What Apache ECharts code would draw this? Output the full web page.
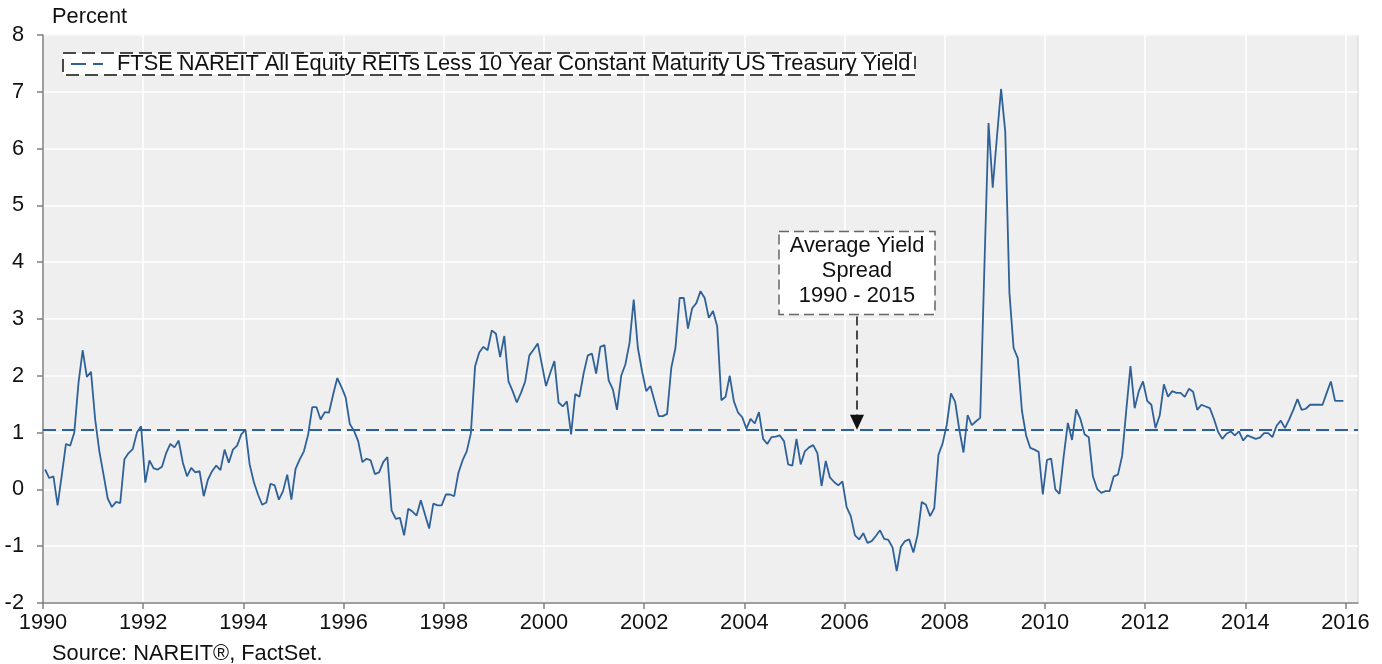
<!DOCTYPE html>
<html>
<head>
<meta charset="utf-8">
<title>REIT yield spread</title>
<script src="https://cdn.jsdelivr.net/npm/echarts@6/dist/echarts.min.js"></script>
<style>
  html, body { margin: 0; padding: 0; background: #fff; }
  #chart { width: 1382px; height: 664px; }
</style>
</head>
<body>
<div id="chart"></div>
<script>
// monthly spread (percent), Jan..Dec, one row per year
var spread1990s = [
  0.35, 0.20, 0.23, -0.28, 0.25, 0.80, 0.77, 1.00, 1.87, 2.45, 1.98, 2.07,
  1.23, 0.67, 0.26, -0.16, -0.31, -0.22, -0.24, 0.53, 0.64, 0.71, 1.00, 1.11,
  0.12, 0.51, 0.37, 0.35, 0.40, 0.64, 0.80, 0.74, 0.86, 0.47, 0.23, 0.38,
  0.30, 0.32, -0.12, 0.17, 0.32, 0.42, 0.34, 0.70, 0.47, 0.70, 0.77, 0.97,
  1.05, 0.44, 0.13, -0.09, -0.27, -0.23, 0.10, 0.07, -0.18, -0.03, 0.26, -0.18,
  0.36, 0.53, 0.67, 0.96, 1.45, 1.45, 1.23, 1.36, 1.35, 1.67, 1.96, 1.80,
  1.62, 1.15, 1.03, 0.85, 0.48, 0.54, 0.51, 0.27, 0.30, 0.48, 0.57, -0.37,
  -0.52, -0.50, -0.81, -0.34, -0.39, -0.46, -0.19, -0.44, -0.69, -0.25, -0.28, -0.28,
  -0.09, -0.09, -0.12, 0.29, 0.51, 0.67, 0.99, 2.17, 2.41, 2.51, 2.45, 2.80,
  2.74, 2.33, 2.70, 1.90, 1.73, 1.53, 1.70, 1.90, 2.36, 2.46, 2.57, 2.20
];
var spread2000s = [
  1.82, 2.05, 2.26, 1.53, 1.46, 1.55, 0.97, 1.68, 1.63, 2.04, 2.36, 2.39,
  2.04, 2.51, 2.54, 1.92, 1.76, 1.40, 2.00, 2.20, 2.58, 3.34, 2.49, 2.08,
  1.73, 1.82, 1.55, 1.29, 1.29, 1.33, 2.14, 2.49, 3.37, 3.37, 2.83, 3.19,
  3.28, 3.49, 3.37, 3.02, 3.14, 2.87, 1.57, 1.63, 2.00, 1.55, 1.35, 1.27,
  1.07, 1.24, 1.16, 1.36, 0.89, 0.80, 0.92, 0.93, 0.95, 0.85, 0.44, 0.42,
  0.89, 0.44, 0.67, 0.74, 0.78, 0.64, 0.06, 0.50, 0.21, 0.13, 0.07, 0.14,
  -0.31, -0.47, -0.81, -0.88, -0.77, -0.94, -0.91, -0.82, -0.72, -0.87, -0.89, -1.02,
  -1.44, -1.01, -0.91, -0.88, -1.11, -0.80, -0.22, -0.27, -0.47, -0.33, 0.61, 0.81,
  1.14, 1.69, 1.54, 1.05, 0.65, 1.31, 1.13, 1.20, 1.26, 3.90, 6.45, 5.31,
  6.20, 7.05, 6.30, 3.46, 2.49, 2.31, 1.38, 0.95, 0.73, 0.70, 0.66, -0.09
];
var spread2010s = [
  0.52, 0.54, 0.00, -0.08, 0.58, 1.17, 0.87, 1.41, 1.24, 0.97, 0.92, 0.23,
  0.01, -0.06, -0.03, -0.03, 0.23, 0.26, 0.59, 1.40, 2.17, 1.43, 1.73, 1.90,
  1.56, 1.49, 1.08, 1.30, 1.85, 1.63, 1.73, 1.70, 1.70, 1.63, 1.77, 1.72,
  1.40, 1.49, 1.46, 1.43, 1.24, 1.01, 0.89, 0.98, 1.02, 0.95, 1.02, 0.86,
  0.95, 0.92, 0.89, 0.91, 0.99, 0.99, 0.92, 1.12, 1.21, 1.08, 1.23, 1.40,
  1.59, 1.40, 1.42, 1.49, 1.49, 1.49, 1.49, 1.70, 1.90, 1.56, 1.56, 1.56
];
var startYear = 1990;
var avgSpread = 1.05;
var xTicks = [1990, 1992, 1994, 1996, 1998, 2000, 2002, 2004, 2006, 2008, 2010, 2012, 2014, 2016];
var seriesName = 'FTSE NAREIT All Equity REITs Less 10 Year Constant Maturity US Treasury Yield';
var noteLines = ['Average Yield', 'Spread', '1990 - 2015'];
var noteAt = [2006.25, 3.08]; // bottom centre of the note box

var font = '"Liberation Sans", Arial, Helvetica, sans-serif';
var fontSize = 21.8;
var blue = '#2f6199';
var axisGrey = '#808080';

var spreadData = spread1990s.concat(spread2000s, spread2010s).map(function (v, i) {
  return [startYear + (i + 0.5) / 12, v];
});

var chart = echarts.init(document.getElementById('chart'));

chart.setOption({
  animation: false,
  textStyle: { fontFamily: font },
  grid: {
    left: 43,
    right: 24,
    top: 35,
    bottom: 61,
    show: true,
    backgroundColor: '#efefef',
    borderColor: '#d2d2d2',
    borderWidth: 1
  },
  legend: {
    data: [{ name: seriesName, icon: 'rect', itemStyle: { color: 'rgba(0,0,0,0)' } }],
    left: 70,
    top: 53,
    padding: 0,
    itemWidth: 32,
    itemHeight: 20,
    z: 10,
    textStyle: { fontSize: fontSize, color: '#111', padding: [0, 0, 0, 10] }
  },
  xAxis: {
    type: 'value',
    min: 1990,
    max: 2016.25,
    interval: 2,
    axisLine: { onZero: false, lineStyle: { color: axisGrey, width: 1.5 } },
    axisTick: { customValues: xTicks, length: 6, lineStyle: { color: axisGrey, width: 1.5 } },
    axisLabel: {
      customValues: xTicks,
      margin: 9,
      fontSize: fontSize,
      color: '#111',
      formatter: function (v) { return String(Math.round(v)); }
    },
    splitLine: { lineStyle: { color: '#ffffff', width: 1.5 } }
  },
  yAxis: {
    type: 'value',
    min: -2,
    max: 8,
    interval: 1,
    axisLine: { show: true, lineStyle: { color: axisGrey, width: 1.5 } },
    axisTick: { show: true, length: 6, lineStyle: { color: axisGrey, width: 1.5 } },
    axisLabel: { margin: 19, fontSize: fontSize, color: '#111' },
    splitLine: { lineStyle: { color: '#ffffff', width: 1.5 } }
  },
  series: [
    {
      name: seriesName,
      type: 'line',
      data: spreadData,
      symbol: 'none',
      z: 3,
      lineStyle: { color: blue, width: 1.8 },
      itemStyle: { color: blue },
      markLine: {
        silent: true,
        symbol: ['none', 'none'],
        label: { show: false },
        lineStyle: { color: blue, type: [13, 6], width: 1.8 },
        data: [{ yAxis: avgSpread }]
      }
    }
  ]
});

// note box and arrow, placed through the chart's own scales
var boxBottom = chart.convertToPixel({ gridIndex: 0 }, noteAt);
var arrowTip = chart.convertToPixel({ gridIndex: 0 }, [noteAt[0], avgSpread]);
var bw = 156, bh = 83;
var cx = Math.round(boxBottom[0]);

var noteText = noteLines.map(function (t, k) {
  return {
    type: 'text',
    z: 12,
    style: {
      text: t,
      x: cx,
      y: boxBottom[1] - bh + 15 + k * 25,
      align: 'center',
      verticalAlign: 'middle',
      font: fontSize + 'px ' + font,
      fill: '#111'
    }
  };
});

chart.setOption({
  graphic: [
    {
      type: 'rect',
      z: 9,
      shape: { x: 63, y: 53, width: 852, height: 22 },
      style: { fill: '#ffffff', stroke: '#111', lineWidth: 1.5, lineDash: [13, 6] }
    },
    {
      // legend key: dashed blue stroke
      type: 'line',
      z: 11,
      shape: { x1: 71, y1: 64, x2: 103, y2: 64 },
      style: { stroke: blue, lineWidth: 2, lineDash: [15, 7] }
    },
    {
      type: 'text',
      z: 12,
      style: { text: 'Percent', x: 52, y: 17, verticalAlign: 'middle', font: fontSize + 'px ' + font, fill: '#111' }
    },
    {
      type: 'text',
      z: 12,
      style: { text: 'Source: NAREIT®, FactSet.', x: 52, y: 654, verticalAlign: 'middle', font: fontSize + 'px ' + font, fill: '#111' }
    },
    {
      type: 'rect',
      z: 11,
      shape: { x: cx - bw / 2, y: boxBottom[1] - bh, width: bw, height: bh },
      style: { fill: '#ffffff', stroke: '#666', lineWidth: 1.5, lineDash: [10, 5] }
    },
    {
      type: 'line',
      z: 11,
      shape: { x1: cx, y1: boxBottom[1] + 2, x2: cx, y2: arrowTip[1] - 14 },
      style: { stroke: '#111', lineWidth: 1.5, lineDash: [9, 5] }
    },
    {
      type: 'polygon',
      z: 11,
      shape: { points: [[cx - 7, arrowTip[1] - 15], [cx + 7, arrowTip[1] - 15], [cx, arrowTip[1]]] },
      style: { fill: '#111' }
    }
  ].concat(noteText)
});
</script>
</body>
</html>
